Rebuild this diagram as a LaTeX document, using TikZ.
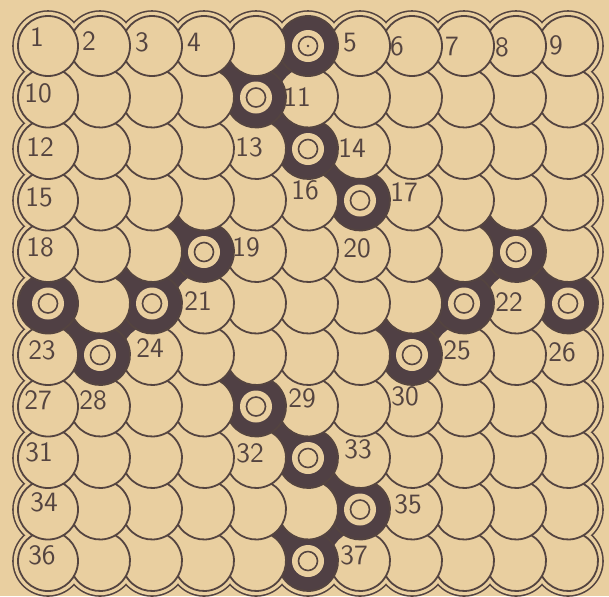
\documentclass[tikz,border=0pt]{standalone}
\usepackage{tikz}

\definecolor{paper}{RGB}{233,207,160}
\definecolor{ink}{RGB}{84,68,64}
\definecolor{tar}{RGB}{80,64,68}

% cells (row/column) that carry a ring
\newcommand\ringlist{1/6,2/5,3/6,4/7,5/4,6/3,7/2,6/1,5/10,6/9,7/8,6/11,8/5,9/6,10/7,11/6}

\begin{document}
\begin{tikzpicture}[x=0.5pt, y=-0.5pt, line join=round,
	every node/.style={font=\fontsize{14}{14}\selectfont\sffamily, text=ink, inner sep=0pt},
	cellline/.style={ink, line width=0.9pt}]
	\fill[paper] (0,0) rectangle (609,596);
	\useasboundingbox (0,0) rectangle (609,596);
	\foreach \r/\c in \ringlist {\expandafter\gdef\csname ring:\r-\c\endcsname{}}
	\foreach \r/\c in {2/6,6/4,7/3,6/10,7/9,11/7} {\expandafter\gdef\csname link:\r-\c\endcsname{}}
	% outer rim
	\foreach \r in {1,...,11} {
		\foreach \c in {1,...,11} {
			\pgfmathtruncatemacro\side{or(or(\r==1,\r==11),or(\c==1,\c==11))}
			\ifnum\side=1 \fill[ink] (52*\c-4,51.5*\r-5.5) circle[radius=35.8]; \fi
		}
	}
	\foreach \r in {1,...,11} {
		\foreach \c in {1,...,11} {
			\pgfmathtruncatemacro\side{or(or(\r==1,\r==11),or(\c==1,\c==11))}
			\ifnum\side=1 \fill[paper] (52*\c-4,51.5*\r-5.5) circle[radius=34.2]; \fi
		}
	}
	\fill[paper] (48,46) rectangle (568,561);
	% scales, lower right first
	\foreach \r in {11,10,...,1} {
		\foreach \c in {11,10,...,1} {
			\pgfmathsetmacro\x{52*\c-4}
			\pgfmathsetmacro\y{51.5*\r-5.5}
			\pgfmathtruncatemacro\inner{and(\r>1,\c>1)}
			\pgfmathsetmacro\sa{\inner ? 244 : 0}
			\pgfmathsetmacro\ea{\inner ? 565 : 360}
			\ifcsname link:\r-\c\endcsname
				\fill[tar] (\x,\y) rectangle ++(-52,-51.5);
			\fi
			\ifcsname ring:\r-\c\endcsname
				\fill[tar] (\x,\y) circle[radius=30];
				\ifnum\inner=1 \fill[tar] (\x,\y) rectangle ++(-52,-51.5); \fi
			\else
				\fill[paper] (\x,\y) circle[radius=30];
			\fi
			\draw[cellline] (\x,\y) ++(\sa:30) arc[start angle=\sa, end angle=\ea, radius=30];
		}
	}
	% ring holes
	\foreach \r/\c in \ringlist {
		\pgfmathsetmacro\x{52*\c-4}
		\pgfmathsetmacro\y{51.5*\r-5.5}
		\fill[paper] (\x,\y) circle[radius=16];
		\draw[ink, line width=0.8pt] (\x,\y) circle[radius=9.5];
	}
	\fill[ink] (308,46) circle[radius=1.4];
	% numbers
	\foreach \n/\lx/\ly in {1/37/37, 2/89/41, 3/142/42, 4/194/42, 5/350/43, 6/397/46, 7/452/46, 8/502/47, 9/556/45,
		10/38/93, 11/297/97, 12/40/147, 13/249/147, 14/352/148, 15/39/197, 16/305/190, 17/404/192,
		18/40/247, 19/246/247, 20/357/248, 21/198/301, 22/509/302, 23/42/350, 24/150/348,
		25/457/350, 26/562/352, 27/38/400, 28/93/400, 29/302/398, 30/405/396,
		31/39/452, 32/250/453, 33/358/449, 34/44/502, 35/408/504, 36/42/555, 37/354/555}
		\node (n\n) at (\lx,\ly) {\n};
\end{tikzpicture}
\end{document}
